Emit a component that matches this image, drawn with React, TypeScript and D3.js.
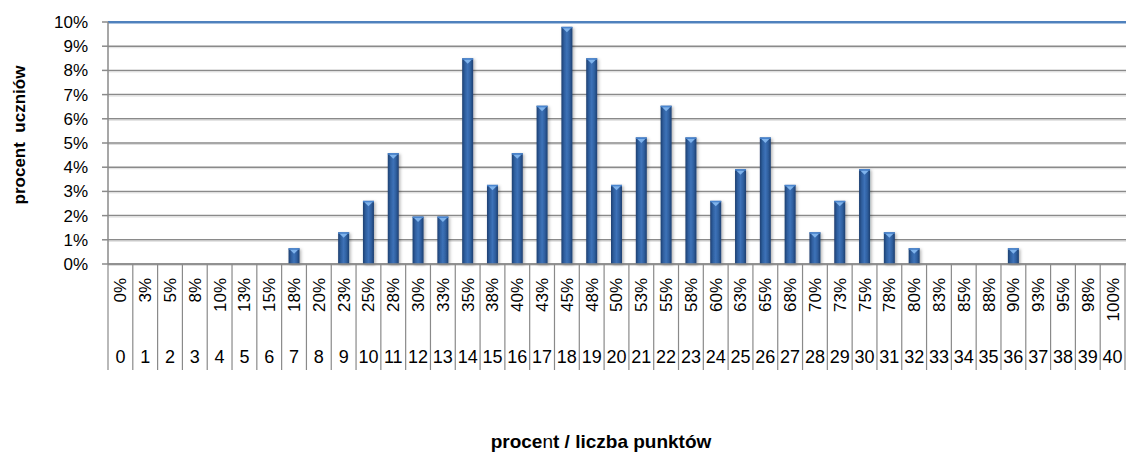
import React from "react";
import * as d3 from "d3";

const points: string[] = Array.from({ length: 41 }, (_, i) => String(i));
const percentLabels: string[] = [
  "0%", "3%", "5%", "8%", "10%", "13%", "15%", "18%", "20%", "23%",
  "25%", "28%", "30%", "33%", "35%", "38%", "40%", "43%", "45%", "48%",
  "50%", "53%", "55%", "58%", "60%", "63%", "65%", "68%", "70%", "73%",
  "75%", "78%", "80%", "83%", "85%", "88%", "90%", "93%", "95%", "98%", "100%",
];
const studentPercent: number[] = [
  0, 0, 0, 0, 0, 0, 0, 0.65, 0, 1.31,
  2.61, 4.58, 1.96, 1.96, 8.5, 3.27, 4.58, 6.54, 9.8, 8.5,
  3.27, 5.23, 6.54, 5.23, 2.61, 3.92, 5.23, 3.27, 1.31, 2.61,
  3.92, 1.31, 0.65, 0, 0, 0, 0.65, 0, 0, 0, 0,
];
const yTicks: number[] = [0, 1, 2, 3, 4, 5, 6, 7, 8, 9, 10];

const W = 1126;
const H = 454;
const left = 108;
const right = 1125;
const top = 22;
const bottom = 264;
const FONT = "'Liberation Sans', Arial, sans-serif";

export default function App() {
  const x = d3.scaleBand<string>().domain(points).range([left, right]).paddingInner(0).paddingOuter(0);
  const y = d3.scaleLinear().domain([0, 10]).range([bottom, top]);
  const bw = x.bandwidth();
  const barW = 11;

  return (
    <svg width={W} height={H} style={{ position: "absolute", left: 0, top: 0, background: "#fff" }}>
      <defs>
        <linearGradient id="barGrad" x1="0" x2="1" y1="0" y2="0">
          <stop offset="0" stopColor="#1d3f70" />
          <stop offset="0.25" stopColor="#2f5f9f" />
          <stop offset="0.5" stopColor="#3d72b8" />
          <stop offset="0.75" stopColor="#2f5f9f" />
          <stop offset="1" stopColor="#1d3f70" />
        </linearGradient>
        <filter id="shadow" x="-50%" y="-10%" width="200%" height="120%">
          <feDropShadow dx="1.5" dy="1" stdDeviation="1.5" floodColor="#000" floodOpacity="0.3" />
        </filter>
      </defs>

      {/* gridlines */}
      {yTicks.map((t) =>
        t === 10 ? (
          <g key={t}>
            <line x1={left} x2={W} y1={y(t)} y2={y(t)} stroke="#4f81bd" strokeWidth={2} />
            <line x1={left} x2={W} y1={y(t) + 1.5} y2={y(t) + 1.5} stroke="#a9c2e0" strokeWidth={1} />
          </g>
        ) : (
          <g key={t}>
            <line x1={left} x2={W} y1={y(t)} y2={y(t)} stroke="#8a8a8a" strokeWidth={1.5} />
            <line x1={left} x2={W} y1={y(t) + 1.5} y2={y(t) + 1.5} stroke="#dedede" strokeWidth={1} />
          </g>
        )
      )}

      {/* y axis */}
      <line x1={left} x2={left} y1={top} y2={bottom} stroke="#8a8a8a" strokeWidth={1.5} />
      {yTicks.map((t) => (
        <g key={"yt" + t}>
          <line x1={left - 6} x2={left} y1={y(t)} y2={y(t)} stroke="#8a8a8a" strokeWidth={1.5} />
          <text x={88} y={y(t)} dy="0.35em" textAnchor="end" fontFamily={FONT} fontSize={17} fill="#000">
            {t}%
          </text>
        </g>
      ))}

      {/* bars */}
      {studentPercent.map((v, i) => {
        if (v <= 0) return null;
        const cx = (x(points[i]) as number) + bw / 2;
        const x0 = cx - barW / 2;
        const yt = y(v);
        return (
          <g key={"b" + i}>
            <rect x={x0} y={yt} width={barW} height={bottom - yt} fill="url(#barGrad)" filter="url(#shadow)" />
            <rect x={x0} y={yt} width={barW} height={1.5} fill="#4a86d0" />
            <polygon
              points={`${x0 + 1.5},${yt + 1.5} ${x0 + barW - 1.5},${yt + 1.5} ${cx},${yt + 5.5}`}
              fill="#7fb3ec"
            />
          </g>
        );
      })}

      {/* category separators */}
      {d3.range(points.length + 1).map((i) => {
        const xx = left + i * bw;
        return <line key={"s" + i} x1={xx} x2={xx} y1={bottom} y2={370} stroke="#8a8a8a" strokeWidth={1.2} />;
      })}

      {/* x axis line */}
      <line x1={left} x2={W} y1={bottom} y2={bottom} stroke="#8a8a8a" strokeWidth={1.5} />

      {/* percent labels */}
      {percentLabels.map((lab, i) => {
        const cx = (x(points[i]) as number) + bw / 2;
        return (
          <text
            key={"p" + i}
            transform={`translate(${cx},${278}) rotate(-90)`}
            dy="0.35em"
            textAnchor="end"
            fontFamily={FONT}
            fontSize={17}
            fill="#000"
          >
            {lab}
          </text>
        );
      })}

      {/* point labels */}
      {points.map((p, i) => {
        const cx = (x(p) as number) + bw / 2;
        return (
          <text key={"n" + i} x={cx} y={363} textAnchor="middle" fontFamily={FONT} fontSize={18} fill="#000">
            {p}
          </text>
        );
      })}

      {/* axis titles */}
      <text
        transform={`translate(${19},${135}) rotate(-90)`}
        dy="0.35em"
        textAnchor="middle"
        fontFamily={FONT}
        fontSize={17}
        fontWeight="bold"
        fill="#000"
        style={{ whiteSpace: "pre" }}
      >
        {"procent  uczniów"}
      </text>
      <text x={601} y={448} textAnchor="middle" fontFamily={FONT} fontSize={19} fontWeight="bold" fill="#000">
        <tspan>proce</tspan>
        <tspan fontWeight="normal">n</tspan>
        <tspan>t / liczba punktów</tspan>
      </text>
    </svg>
  );
}
